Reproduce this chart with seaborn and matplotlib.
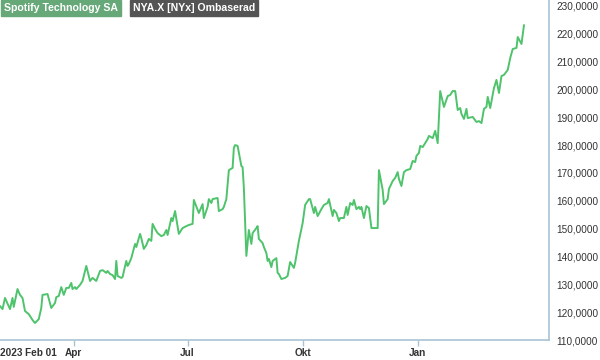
import pandas as pd
import matplotlib
matplotlib.use("Agg")
import matplotlib.pyplot as plt
import seaborn as sns

# Spotify price (days counted from 2023-02-01)
start_date = "2023-02-01"
days_from_start = [
    0, 2, 4, 8, 10, 11, 14, 16, 18, 20, 23, 26, 28, 31, 33, 34, 38, 41, 44, 45,
    47, 49, 51, 53, 55, 57, 58, 60, 61, 64, 66, 69, 70, 72, 74, 77, 80, 82, 85, 86,
    88, 90, 92, 93, 94, 97, 98, 101, 102, 103, 105, 108, 109, 112, 113, 115, 117, 119, 121, 122,
    124, 126, 129, 131, 133, 134, 137, 138, 140, 143, 146, 149, 151, 154, 155, 158, 159, 162, 163, 166,
    167, 169, 170, 174, 175, 178, 179, 181, 183, 186, 187, 188, 190, 193, 194, 195, 197, 199, 201, 202,
    205, 206, 207, 210, 211, 213, 214, 215, 217, 218, 221, 222, 223, 225, 228, 230, 232, 235, 236, 239,
    242, 244, 247, 248, 251, 252, 254, 257, 259, 262, 263, 266, 267, 269, 271, 272, 275, 277, 278, 280,
    282, 283, 285, 287, 288, 289, 291, 293, 295, 297, 299, 302, 303, 306, 307, 310, 311, 314, 316, 318,
    319, 321, 323, 325, 328, 330, 332, 333, 335, 336, 338, 340, 342, 343, 346, 348, 350, 352, 355, 358,
    360, 362, 364, 366, 368, 369, 371, 373, 374, 378, 381, 383, 385, 387, 389, 390, 392, 395, 397, 399,
    401, 403, 406, 408, 410, 413, 414, 417, 419,
]
price = [
    122.2, 121.1, 125.1, 121.1, 125.1, 121.9, 128.3, 126.2, 125.1, 120.4, 119.3, 117.2, 116.1, 117.5, 121.5, 126.2, 126.5, 121.5, 123.3, 125.4,
    125.8, 129.0, 126.2, 128.7, 128.7, 130.5, 128.3, 129.0, 128.3, 129.8, 131.2, 136.6, 134.8, 131.2, 132.3, 131.2, 134.8, 135.1, 134.1, 134.8,
    133.7, 133.3, 131.9, 138.4, 133.0, 132.3, 132.6, 138.4, 136.6, 137.3, 139.4, 144.5, 143.4, 148.1, 146.6, 142.7, 144.1, 146.3, 145.6, 151.7,
    149.9, 148.4, 147.3, 147.7, 149.5, 147.7, 153.8, 152.7, 156.3, 148.1, 150.2, 150.9, 151.3, 151.7, 160.3, 156.7, 155.6, 158.8, 153.8, 157.8,
    160.6, 159.2, 160.6, 161.0, 156.3, 157.0, 157.8, 160.6, 171.0, 171.8, 179.0, 180.0, 179.7, 172.5, 172.1, 164.6, 140.2, 149.5, 144.5, 148.4,
    150.2, 150.9, 146.3, 144.8, 143.4, 141.2, 138.4, 139.1, 136.2, 138.4, 139.4, 134.1, 133.7, 131.9, 132.3, 133.0, 138.0, 135.9, 137.7, 145.6,
    152.0, 158.5, 160.6, 160.6, 155.6, 157.8, 154.5, 157.0, 158.5, 159.2, 160.6, 154.5, 156.7, 155.6, 152.7, 153.8, 153.8, 157.8, 154.9, 159.2,
    158.5, 160.3, 157.0, 157.8, 157.0, 157.8, 153.8, 158.1, 157.4, 150.2, 150.2, 150.2, 171.0, 163.9, 158.8, 160.6, 164.2, 167.1, 168.2, 170.3,
    167.8, 165.3, 170.3, 171.0, 171.4, 174.3, 173.9, 176.1, 177.2, 179.7, 179.3, 180.7, 182.2, 183.3, 182.5, 185.1, 180.7, 199.4, 193.7, 197.6,
    198.0, 199.4, 199.4, 192.6, 193.3, 191.2, 189.4, 193.0, 189.7, 190.1, 188.3, 188.6, 187.9, 193.0, 193.7, 197.3, 193.3, 200.5, 203.4, 198.7,
    204.8, 205.2, 207.0, 211.3, 214.5, 214.9, 218.8, 216.3, 223.1,
]

month_ticks = ["2023-02-01", "2023-04-01", "2023-07-01", "2023-10-01", "2024-01-01"]
month_labels = ["2023 Feb 01", "Apr", "Jul", "Okt", "Jan"]
y_ticks = list(range(110, 231, 10))
legend_names = ["Spotify Technology SA", "NYA.X [NYx] Ombaserad"]

df = pd.DataFrame({
    "date": pd.Timestamp(start_date) + pd.to_timedelta(days_from_start, unit="D"),
    "price": price,
})

sns.set_style("white")
plt.rcParams["font.family"] = ["Liberation Sans", "DejaVu Sans"]

fig = plt.figure(figsize=(6, 3.6), dpi=100)
ax = fig.add_axes([0.0, 20 / 360, 549 / 600, 340 / 360])

sns.lineplot(data=df, x="date", y="price", ax=ax, color="#4ec36c",
             linewidth=1.4, estimator=None)

ax.set_xlim(pd.Timestamp("2023-02-01"), pd.Timestamp("2024-04-15"))
ax.set_ylim(110, 232.1)

spine_col = "#a9c3d6"
for side in ["left", "top"]:
    ax.spines[side].set_visible(False)
for side in ["bottom", "right"]:
    ax.spines[side].set_color(spine_col)
    ax.spines[side].set_linewidth(1.2)

ax.set_xticks(pd.to_datetime(month_ticks))
ax.set_xticklabels(month_labels, fontweight="bold", fontsize=7.2, color="#333333")
ax.tick_params(axis="x", length=4, width=1, color=spine_col, pad=2, bottom=True)
ax.xaxis.get_major_ticks()[0].tick1line.set_visible(False)
ax.get_xticklabels()[0].set_horizontalalignment("left")

ax.yaxis.tick_right()
ax.set_yticks(y_ticks)
ax.set_yticklabels([f"{v},0000" for v in y_ticks], fontsize=7.2, color="#333333")
ax.tick_params(axis="y", length=0, pad=5.5)
for lab in ax.get_yticklabels():
    lab.set_clip_on(False)

ax.set_xlabel("")
ax.set_ylabel("")
ax.grid(False)

# legend chips at the top
fig.text(0.007, 0.978, legend_names[0], fontsize=7.6, fontweight="bold", color="white",
         va="center", ha="left",
         bbox=dict(boxstyle="square,pad=0.28", fc="#66a878", ec="#66a878"))
fig.text(0.222, 0.978, legend_names[1], fontsize=7.6, fontweight="bold", color="white",
         va="center", ha="left",
         bbox=dict(boxstyle="square,pad=0.28", fc="#545454", ec="#545454"))

fig.savefig("out.png", dpi=100)
